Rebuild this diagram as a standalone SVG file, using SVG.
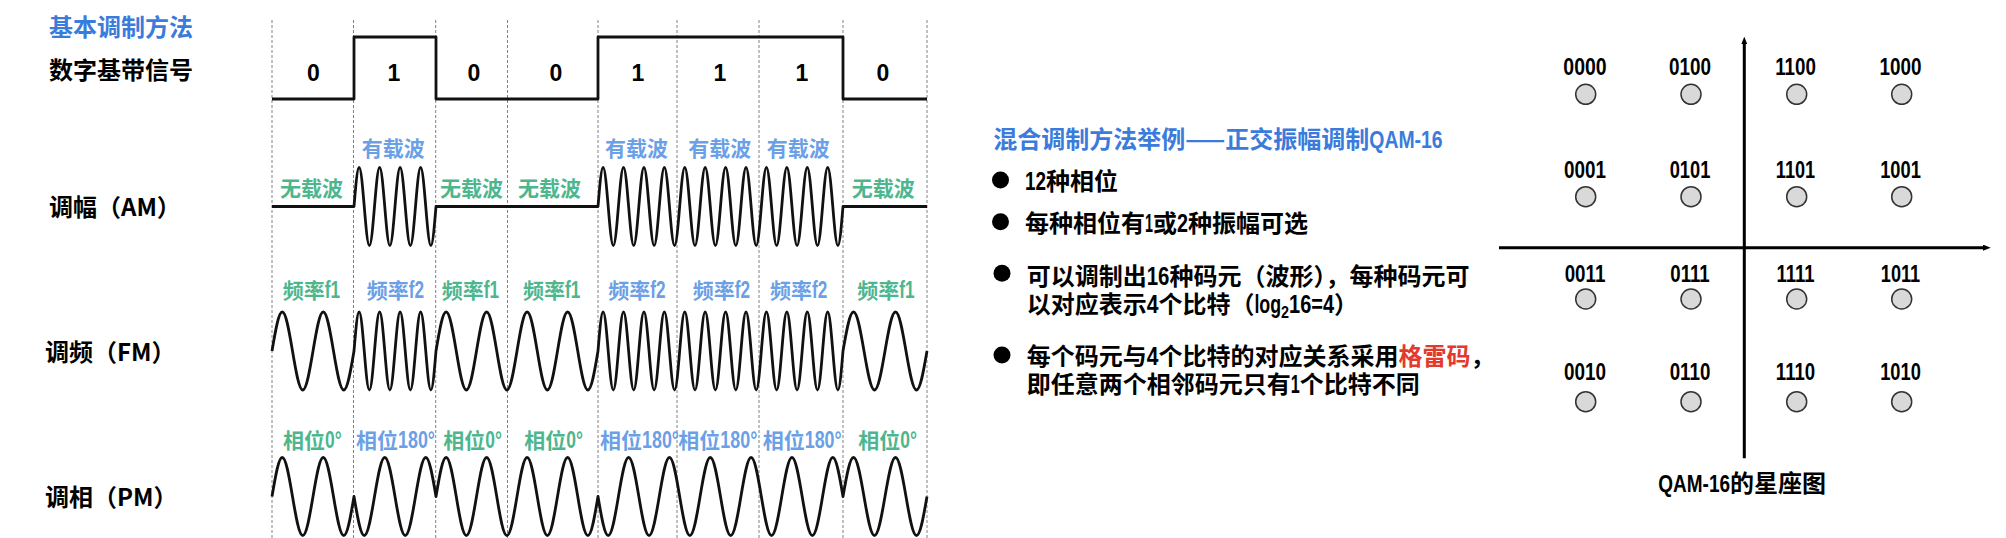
<svg xmlns="http://www.w3.org/2000/svg" width="2006" height="538" viewBox="0 0 2006 538">
<style>
.cjk{font-family:"Noto Sans CJK SC","Noto Sans CJK JP",sans-serif;font-weight:700}
.num{font-family:"Liberation Sans",Arial,sans-serif;font-weight:700}
.l23{font-size:23px}
.l25{font-size:25px}
.t24{font-size:24px}
.lbl{font-size:21px}
.blue{fill:#3b7bdb}
.lb{fill:#6b9fe6}
.gr{fill:#4db68e}
.red{fill:#e23b2e}
.dash{stroke:#808080;stroke-width:1;stroke-dasharray:3 2;fill:none}
.wave{stroke:#111;stroke-width:2.8;fill:none;stroke-linejoin:round}
.axis{stroke:#000;stroke-width:3;fill:none}
.pt{fill:#d9d9d9;stroke:#333;stroke-width:1.5}
.ql{font-family:"Liberation Sans",Arial,sans-serif;font-weight:700;font-size:23px;text-anchor:middle}
.bit{font-family:"Liberation Sans",Arial,sans-serif;font-weight:700;font-size:23px;text-anchor:middle}
</style>
<defs>
<marker id="arr" viewBox="0 0 10 8" refX="1" refY="4" markerWidth="2.6" markerHeight="2.1" orient="auto" markerUnits="strokeWidth">
<path d="M0,0 L10,4 L0,8 z" fill="#000"/>
</marker>
</defs>
<rect width="2006" height="538" fill="#fff"/>

<g id="row-labels">
<text class="cjk t24 blue" x="49" y="35.5">基本调制方法</text>
<text class="cjk t24" x="49" y="79">数字基带信号</text>
<text class="cjk t24" x="49" y="216">调幅（AM）</text>
<text class="cjk t24" x="45" y="361">调频（FM）</text>
<text class="cjk t24" x="45" y="506">调相（PM）</text>
</g>

<g id="grid">
<path class="dash" d="M272,20V538M353.5,20V538M435.7,20V538M507.5,20V538M598,20V538M677,20V538M759,20V538M843,20V538M927,20V538"/>
</g>

<g id="digital">
<path class="wave" d="M272,99 H354 V37 H436 V99 H598 V37 H843 V99 H927"/>
<text class="bit" x="313.5" y="81">0</text>
<text class="bit" x="394" y="81">1</text>
<text class="bit" x="474" y="81">0</text>
<text class="bit" x="556" y="81">0</text>
<text class="bit" x="638" y="81">1</text>
<text class="bit" x="720" y="81">1</text>
<text class="bit" x="802" y="81">1</text>
<text class="bit" x="883" y="81">0</text>
</g>

<g id="am">
<path class="wave" d="M272,206.5 H354
c1.713,-20.48 3.29,-39 5.125,-39 s3.412,18.52 5.125,39 s3.29,39 5.125,39 s3.412,-18.52 5.125,-39
s3.29,-39 5.125,-39 s3.412,18.52 5.125,39 s3.29,39 5.125,39 s3.412,-18.52 5.125,-39
s3.29,-39 5.125,-39 s3.412,18.52 5.125,39 s3.29,39 5.125,39 s3.412,-18.52 5.125,-39
s3.29,-39 5.125,-39 s3.412,18.52 5.125,39 s3.29,39 5.125,39 s3.412,-18.52 5.125,-39
H598
c1.706,-20.48 3.276,-39 5.1042,-39 s3.398,18.52 5.1042,39 s3.276,39 5.1042,39 s3.398,-18.52 5.1042,-39
s3.276,-39 5.1042,-39 s3.398,18.52 5.1042,39 s3.276,39 5.1042,39 s3.398,-18.52 5.1042,-39
s3.276,-39 5.1042,-39 s3.398,18.52 5.1042,39 s3.276,39 5.1042,39 s3.398,-18.52 5.1042,-39
s3.276,-39 5.1042,-39 s3.398,18.52 5.1042,39 s3.276,39 5.1042,39 s3.398,-18.52 5.1042,-39
s3.276,-39 5.1042,-39 s3.398,18.52 5.1042,39 s3.276,39 5.1042,39 s3.398,-18.52 5.1042,-39
s3.276,-39 5.1042,-39 s3.398,18.52 5.1042,39 s3.276,39 5.1042,39 s3.398,-18.52 5.1042,-39
s3.276,-39 5.1042,-39 s3.398,18.52 5.1042,39 s3.276,39 5.1042,39 s3.398,-18.52 5.1042,-39
s3.276,-39 5.1042,-39 s3.398,18.52 5.1042,39 s3.276,39 5.1042,39 s3.398,-18.52 5.1042,-39
s3.276,-39 5.1042,-39 s3.398,18.52 5.1042,39 s3.276,39 5.1042,39 s3.398,-18.52 5.1042,-39
s3.276,-39 5.1042,-39 s3.398,18.52 5.1042,39 s3.276,39 5.1042,39 s3.398,-18.52 5.1042,-39
s3.276,-39 5.1042,-39 s3.398,18.52 5.1042,39 s3.276,39 5.1042,39 s3.398,-18.52 5.1042,-39
s3.276,-39 5.1042,-39 s3.398,18.52 5.1042,39 s3.276,39 5.1042,39 s3.398,-18.52 5.1042,-39
H927"/>
<text class="cjk lbl gr" x="280" y="195.5">无载波</text>
<text class="cjk lbl lb" x="361.7" y="155.5">有载波</text>
<text class="cjk lbl gr" x="440" y="195.5">无载波</text>
<text class="cjk lbl gr" x="518" y="195.5">无载波</text>
<text class="cjk lbl lb" x="605" y="155.5">有载波</text>
<text class="cjk lbl lb" x="688.3" y="155.5">有载波</text>
<text class="cjk lbl lb" x="766.7" y="155.5">有载波</text>
<text class="cjk lbl gr" x="851.7" y="195.5">无载波</text>
</g>

<g id="fm">
<path class="wave" d="M272,351
c3.427,-20.48 6.579,-39 10.25,-39 s6.823,18.52 10.25,39 s6.579,39 10.25,39 s6.823,-18.52 10.25,-39
s6.579,-39 10.25,-39 s6.823,18.52 10.25,39 s6.579,39 10.25,39 s6.823,-18.52 10.25,-39
c1.713,-20.48 3.29,-39 5.125,-39 s3.412,18.52 5.125,39 s3.29,39 5.125,39 s3.412,-18.52 5.125,-39
s3.29,-39 5.125,-39 s3.412,18.52 5.125,39 s3.29,39 5.125,39 s3.412,-18.52 5.125,-39
s3.29,-39 5.125,-39 s3.412,18.52 5.125,39 s3.29,39 5.125,39 s3.412,-18.52 5.125,-39
s3.29,-39 5.125,-39 s3.412,18.52 5.125,39 s3.29,39 5.125,39 s3.412,-18.52 5.125,-39
c3.385,-20.48 6.499,-39 10.125,-39 s6.74,18.52 10.125,39 s6.499,39 10.125,39 s6.74,-18.52 10.125,-39
s6.499,-39 10.125,-39 s6.74,18.52 10.125,39 s6.499,39 10.125,39 s6.74,-18.52 10.125,-39
s6.499,-39 10.125,-39 s6.74,18.52 10.125,39 s6.499,39 10.125,39 s6.74,-18.52 10.125,-39
s6.499,-39 10.125,-39 s6.74,18.52 10.125,39 s6.499,39 10.125,39 s6.74,-18.52 10.125,-39
c1.706,-20.48 3.276,-39 5.1042,-39 s3.398,18.52 5.1042,39 s3.276,39 5.1042,39 s3.398,-18.52 5.1042,-39
s3.276,-39 5.1042,-39 s3.398,18.52 5.1042,39 s3.276,39 5.1042,39 s3.398,-18.52 5.1042,-39
s3.276,-39 5.1042,-39 s3.398,18.52 5.1042,39 s3.276,39 5.1042,39 s3.398,-18.52 5.1042,-39
s3.276,-39 5.1042,-39 s3.398,18.52 5.1042,39 s3.276,39 5.1042,39 s3.398,-18.52 5.1042,-39
s3.276,-39 5.1042,-39 s3.398,18.52 5.1042,39 s3.276,39 5.1042,39 s3.398,-18.52 5.1042,-39
s3.276,-39 5.1042,-39 s3.398,18.52 5.1042,39 s3.276,39 5.1042,39 s3.398,-18.52 5.1042,-39
s3.276,-39 5.1042,-39 s3.398,18.52 5.1042,39 s3.276,39 5.1042,39 s3.398,-18.52 5.1042,-39
s3.276,-39 5.1042,-39 s3.398,18.52 5.1042,39 s3.276,39 5.1042,39 s3.398,-18.52 5.1042,-39
s3.276,-39 5.1042,-39 s3.398,18.52 5.1042,39 s3.276,39 5.1042,39 s3.398,-18.52 5.1042,-39
s3.276,-39 5.1042,-39 s3.398,18.52 5.1042,39 s3.276,39 5.1042,39 s3.398,-18.52 5.1042,-39
s3.276,-39 5.1042,-39 s3.398,18.52 5.1042,39 s3.276,39 5.1042,39 s3.398,-18.52 5.1042,-39
s3.276,-39 5.1042,-39 s3.398,18.52 5.1042,39 s3.276,39 5.1042,39 s3.398,-18.52 5.1042,-39
c3.51,-20.48 6.74,-39 10.5,-39 s6.99,18.52 10.5,39 s6.74,39 10.5,39 s6.99,-18.52 10.5,-39
s6.74,-39 10.5,-39 s6.99,18.52 10.5,39 s6.74,39 10.5,39 s6.99,-18.52 10.5,-39"/>
<text class="cjk lbl gr" x="282.7" y="298">频率<tspan class="num l23" textLength="15.3" lengthAdjust="spacingAndGlyphs">f1</tspan></text>
<text class="cjk lbl lb" x="366.7" y="298">频率<tspan class="num l23" textLength="15.3" lengthAdjust="spacingAndGlyphs">f2</tspan></text>
<text class="cjk lbl gr" x="441.7" y="298">频率<tspan class="num l23" textLength="15.3" lengthAdjust="spacingAndGlyphs">f1</tspan></text>
<text class="cjk lbl gr" x="523" y="298">频率<tspan class="num l23" textLength="15.3" lengthAdjust="spacingAndGlyphs">f1</tspan></text>
<text class="cjk lbl lb" x="608.3" y="298">频率<tspan class="num l23" textLength="15.3" lengthAdjust="spacingAndGlyphs">f2</tspan></text>
<text class="cjk lbl lb" x="692.7" y="298">频率<tspan class="num l23" textLength="15.3" lengthAdjust="spacingAndGlyphs">f2</tspan></text>
<text class="cjk lbl lb" x="770" y="298">频率<tspan class="num l23" textLength="15.3" lengthAdjust="spacingAndGlyphs">f2</tspan></text>
<text class="cjk lbl gr" x="857.3" y="298">频率<tspan class="num l23" textLength="15.3" lengthAdjust="spacingAndGlyphs">f1</tspan></text>
</g>

<g id="pm">
<path class="wave" d="M272,496.5
c3.427,-20.48 6.579,-39 10.25,-39 s6.823,18.52 10.25,39 s6.579,39 10.25,39 s6.823,-18.52 10.25,-39
s6.579,-39 10.25,-39 s6.823,18.52 10.25,39 s6.579,39 10.25,39 s6.823,-18.52 10.25,-39
c3.427,20.48 6.579,39 10.25,39 s6.823,-18.52 10.25,-39 s6.579,-39 10.25,-39 s6.823,18.52 10.25,39
s6.579,39 10.25,39 s6.823,-18.52 10.25,-39 s6.579,-39 10.25,-39 s6.823,18.52 10.25,39
c3.385,-20.48 6.499,-39 10.125,-39 s6.74,18.52 10.125,39 s6.499,39 10.125,39 s6.74,-18.52 10.125,-39
s6.499,-39 10.125,-39 s6.74,18.52 10.125,39 s6.499,39 10.125,39 s6.74,-18.52 10.125,-39
s6.499,-39 10.125,-39 s6.74,18.52 10.125,39 s6.499,39 10.125,39 s6.74,-18.52 10.125,-39
s6.499,-39 10.125,-39 s6.74,18.52 10.125,39 s6.499,39 10.125,39 s6.74,-18.52 10.125,-39
c3.413,20.48 6.553,39 10.2083,39 s6.796,-18.52 10.2083,-39 s6.553,-39 10.2083,-39 s6.796,18.52 10.2083,39
s6.553,39 10.2083,39 s6.796,-18.52 10.2083,-39 s6.553,-39 10.2083,-39 s6.796,18.52 10.2083,39
s6.553,39 10.2083,39 s6.796,-18.52 10.2083,-39 s6.553,-39 10.2083,-39 s6.796,18.52 10.2083,39
s6.553,39 10.2083,39 s6.796,-18.52 10.2083,-39 s6.553,-39 10.2083,-39 s6.796,18.52 10.2083,39
s6.553,39 10.2083,39 s6.796,-18.52 10.2083,-39 s6.553,-39 10.2083,-39 s6.796,18.52 10.2083,39
s6.553,39 10.2083,39 s6.796,-18.52 10.2083,-39 s6.553,-39 10.2083,-39 s6.796,18.52 10.2083,39
c3.51,-20.48 6.74,-39 10.5,-39 s6.99,18.52 10.5,39 s6.74,39 10.5,39 s6.99,-18.52 10.5,-39
s6.74,-39 10.5,-39 s6.99,18.52 10.5,39 s6.74,39 10.5,39 s6.99,-18.52 10.5,-39"/>
<text class="cjk lbl gr" x="283" y="448">相位<tspan class="num l23" textLength="16.7" lengthAdjust="spacingAndGlyphs">0°</tspan></text>
<text class="cjk lbl lb" x="356" y="448">相位<tspan class="num l23" textLength="37" lengthAdjust="spacingAndGlyphs">180°</tspan></text>
<text class="cjk lbl gr" x="443.3" y="448">相位<tspan class="num l23" textLength="16.7" lengthAdjust="spacingAndGlyphs">0°</tspan></text>
<text class="cjk lbl gr" x="524.3" y="448">相位<tspan class="num l23" textLength="16.7" lengthAdjust="spacingAndGlyphs">0°</tspan></text>
<text class="cjk lbl lb" x="600" y="448">相位<tspan class="num l23" textLength="37" lengthAdjust="spacingAndGlyphs">180°</tspan></text>
<text class="cjk lbl lb" x="678.3" y="448">相位<tspan class="num l23" textLength="37" lengthAdjust="spacingAndGlyphs">180°</tspan></text>
<text class="cjk lbl lb" x="762.7" y="448">相位<tspan class="num l23" textLength="37" lengthAdjust="spacingAndGlyphs">180°</tspan></text>
<text class="cjk lbl gr" x="858.3" y="448">相位<tspan class="num l23" textLength="16.7" lengthAdjust="spacingAndGlyphs">0°</tspan></text>
</g>

<g id="qam-notes">
<text class="cjk t24 blue" x="993.3" y="148">混合调制方法举例<tspan textLength="40" lengthAdjust="spacingAndGlyphs">——</tspan>正交振幅调制<tspan class="num" textLength="73.3" lengthAdjust="spacingAndGlyphs">QAM-16</tspan></text>
<circle cx="1000.5" cy="180" r="8.5" fill="#000"/>
<text class="cjk t24" x="1025" y="190"><tspan class="num l25" textLength="21" lengthAdjust="spacingAndGlyphs">12</tspan>种相位</text>
<circle cx="1000.5" cy="221.7" r="8.5" fill="#000"/>
<text class="cjk t24" x="1025" y="231.5">每种相位有<tspan class="num l25" textLength="8" lengthAdjust="spacingAndGlyphs">1</tspan>或<tspan class="num l25" textLength="11" lengthAdjust="spacingAndGlyphs">2</tspan>种振幅可选</text>
<circle cx="1002" cy="273.3" r="8.5" fill="#000"/>
<text class="cjk t24" x="1026.7" y="285">可以调制出<tspan class="num l25" textLength="22.7" lengthAdjust="spacingAndGlyphs">16</tspan>种码元（波形），每种码元可</text>
<text class="cjk t24" x="1026.7" y="313">以对应表示<tspan class="num l25" textLength="11.7" lengthAdjust="spacingAndGlyphs">4</tspan>个比特（<tspan class="num l25" textLength="26.7" lengthAdjust="spacingAndGlyphs">log</tspan><tspan class="num" font-size="16" dy="5" textLength="8" lengthAdjust="spacingAndGlyphs">2</tspan><tspan class="num l25" dy="-5" textLength="45" lengthAdjust="spacingAndGlyphs">16=4</tspan>）</text>
<circle cx="1002" cy="355" r="8.5" fill="#000"/>
<text class="cjk t24" x="1026.7" y="365">每个码元与<tspan class="num l25" textLength="11.7" lengthAdjust="spacingAndGlyphs">4</tspan>个比特的对应关系采用<tspan class="red">格雷码</tspan>，</text>
<text class="cjk t24" x="1026.7" y="393">即任意两个相邻码元只有<tspan class="num l25" textLength="9" lengthAdjust="spacingAndGlyphs">1</tspan>个比特不同</text>
</g>

<g id="axes">
<line class="axis" x1="1744.3" y1="458.3" x2="1744.3" y2="43.7" marker-end="url(#arr)"/>
<line class="axis" x1="1499" y1="247.7" x2="1983.7" y2="247.7" marker-end="url(#arr)"/>
</g>

<g id="constellation">
<g id="pt-0000"><text class="ql" x="1585" y="75" textLength="43.3" lengthAdjust="spacingAndGlyphs">0000</text><circle class="pt" cx="1585.7" cy="94.3" r="10"/></g>
<g id="pt-0100"><text class="ql" x="1690" y="75" textLength="42" lengthAdjust="spacingAndGlyphs">0100</text><circle class="pt" cx="1691" cy="94.3" r="10"/></g>
<g id="pt-1100"><text class="ql" x="1795.5" y="75" textLength="40.7" lengthAdjust="spacingAndGlyphs">1100</text><circle class="pt" cx="1796.7" cy="94.3" r="10"/></g>
<g id="pt-1000"><text class="ql" x="1900.5" y="75" textLength="42" lengthAdjust="spacingAndGlyphs">1000</text><circle class="pt" cx="1901.7" cy="94.3" r="10"/></g>

<g id="pt-0001"><text class="ql" x="1585" y="178.3" textLength="42" lengthAdjust="spacingAndGlyphs">0001</text><circle class="pt" cx="1585.7" cy="196.7" r="10"/></g>
<g id="pt-0101"><text class="ql" x="1690" y="178.3" textLength="40.7" lengthAdjust="spacingAndGlyphs">0101</text><circle class="pt" cx="1691" cy="196.7" r="10"/></g>
<g id="pt-1101"><text class="ql" x="1795.5" y="178.3" textLength="39.4" lengthAdjust="spacingAndGlyphs">1101</text><circle class="pt" cx="1796.7" cy="196.7" r="10"/></g>
<g id="pt-1001"><text class="ql" x="1900.5" y="178.3" textLength="40.7" lengthAdjust="spacingAndGlyphs">1001</text><circle class="pt" cx="1901.7" cy="196.7" r="10"/></g>

<g id="pt-0011"><text class="ql" x="1585" y="281.7" textLength="40.7" lengthAdjust="spacingAndGlyphs">0011</text><circle class="pt" cx="1585.7" cy="299" r="10"/></g>
<g id="pt-0111"><text class="ql" x="1690" y="281.7" textLength="39.4" lengthAdjust="spacingAndGlyphs">0111</text><circle class="pt" cx="1691" cy="299" r="10"/></g>
<g id="pt-1111"><text class="ql" x="1795.5" y="281.7" textLength="38.1" lengthAdjust="spacingAndGlyphs">1111</text><circle class="pt" cx="1796.7" cy="299" r="10"/></g>
<g id="pt-1011"><text class="ql" x="1900.5" y="281.7" textLength="39.4" lengthAdjust="spacingAndGlyphs">1011</text><circle class="pt" cx="1901.7" cy="299" r="10"/></g>

<g id="pt-0010"><text class="ql" x="1585" y="380" textLength="42" lengthAdjust="spacingAndGlyphs">0010</text><circle class="pt" cx="1585.7" cy="401.7" r="10"/></g>
<g id="pt-0110"><text class="ql" x="1690" y="380" textLength="40.7" lengthAdjust="spacingAndGlyphs">0110</text><circle class="pt" cx="1691" cy="401.7" r="10"/></g>
<g id="pt-1110"><text class="ql" x="1795.5" y="380" textLength="39.4" lengthAdjust="spacingAndGlyphs">1110</text><circle class="pt" cx="1796.7" cy="401.7" r="10"/></g>
<g id="pt-1010"><text class="ql" x="1900.5" y="380" textLength="40.7" lengthAdjust="spacingAndGlyphs">1010</text><circle class="pt" cx="1901.7" cy="401.7" r="10"/></g>

<text class="cjk t24" x="1658.3" y="492"><tspan class="num" textLength="71.7" lengthAdjust="spacingAndGlyphs">QAM-16</tspan>的星座图</text>
</g>
</svg>
